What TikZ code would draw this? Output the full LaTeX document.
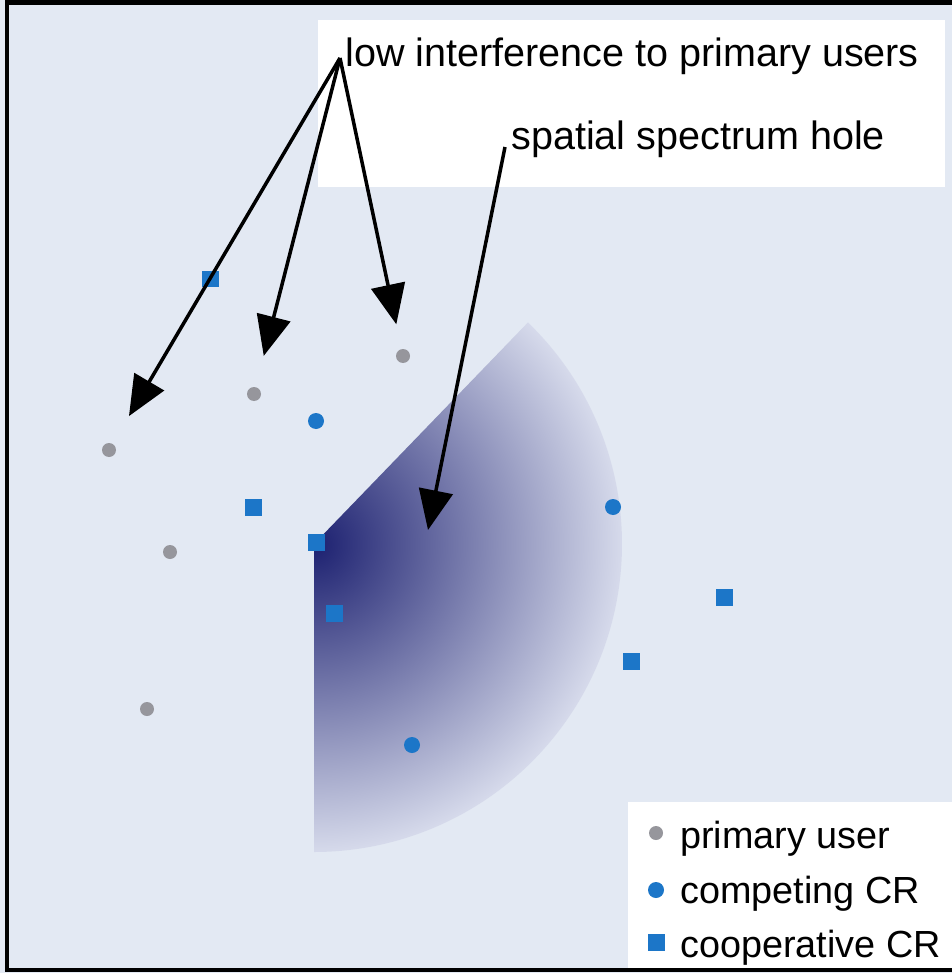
\documentclass[tikz,border=0pt]{standalone}
\usepackage{fontspec}
\setmainfont{Liberation Sans}
\usetikzlibrary{arrows.meta,calc}

\definecolor{bgblue}{RGB}{227,233,243}
\definecolor{holedark}{RGB}{28,32,112}
\definecolor{holelight}{RGB}{214,218,235}
\definecolor{pugray}{RGB}{150,150,156}
\definecolor{crblue}{RGB}{28,118,200}

\pgfdeclareradialshading{holeshade}{\pgfpoint{0bp}{0bp}}{color(0bp)=(holedark); color(25bp)=(holelight); color(50bp)=(holelight)}

\tikzset{
    pudot/.style={circle,fill=pugray,inner sep=0pt,minimum size=0.28cm},
    ccdot/.style={circle,fill=crblue,inner sep=0pt,minimum size=0.32cm},
    cosq/.style={rectangle,fill=crblue,inner sep=0pt,minimum size=0.34cm},
    lbl/.style={anchor=base west,inner sep=0pt,font=\fontsize{22.5}{27}\selectfont},
    leglbl/.style={anchor=base west,inner sep=0pt,font=\fontsize{21.5}{26}\selectfont},
    pointer/.style={line width=2pt,-{Triangle[length=0.8cm,width=0.68cm]}}
}

\begin{document}
\begin{tikzpicture}[x=0.02cm,y=-0.02cm]
    \useasboundingbox (0,0) rectangle (952,973);
    \coordinate (apex) at (314,544);
    \def\R{308}

    % 1. Background and white label boxes
    \fill[bgblue] (0,0) rectangle (952,973);
    \fill[white] (318,20) rectangle (945,187);
    \fill[white] (628,802) rectangle (952,968);

    % 2. Spatial spectrum hole: shaded sector
    \begin{scope}
        \clip (apex) -- ++(-46:\R) arc (-46:90:\R) -- cycle;
        \shade[shading=holeshade] ($(apex)+(-\R,-\R)$) rectangle ($(apex)+(\R,\R)$);
    \end{scope}

    % 3. Primary users
    \node[pudot] (pu1) at (109,450) {};
    \node[pudot] (pu2) at (254,394) {};
    \node[pudot] (pu3) at (403,356) {};
    \node[pudot] (pu4) at (170,552) {};
    \node[pudot] (pu5) at (147,709) {};

    % 4. Competing CRs
    \node[ccdot] (cc1) at (316,421) {};
    \node[ccdot] (cc2) at (613,507) {};
    \node[ccdot] (cc3) at (412,745) {};

    % 5. Cooperative CRs
    \node[cosq] (co1) at (210,279) {};
    \node[cosq] (co2) at (253,507) {};
    \node[cosq] (co3) at (316,542) {};
    \node[cosq] (co4) at (334,613) {};
    \node[cosq] (co5) at (724,597) {};
    \node[cosq] (co6) at (631,661) {};

    % 6. Labels and pointers
    \node[lbl] (lowlbl) at (345,67) {low interference to primary users};
    \node[lbl] (holelbl) at (511,150) {spatial spectrum hole};
    \coordinate (lowtail) at (340,58);
    \coordinate (holetail) at (505,147);
    \coordinate (holept) at (428,530);

    \draw[pointer,shorten >=0.64cm] (lowtail) -- (pu1);
    \draw[pointer,shorten >=0.64cm] (lowtail) -- (pu2);
    \draw[pointer,shorten >=0.5cm] (lowtail) -- (pu3);
    \draw[pointer] (holetail) -- (holept);

    % 7. Legend
    \node[pudot] (legpu) at (656,833) {};
    \node[ccdot] (legcc) at (656,890) {};
    \node[cosq] (legco) at (656,942) {};
    \node[leglbl] (legputxt) at (680,848) {primary user};
    \node[leglbl] (legcctxt) at (680,903) {competing CR};
    \node[leglbl] (legcotxt) at (680,957) {cooperative CR};

    % Frame
    \draw[line width=0.09cm] (7,2.5) rectangle (1000,970);
\end{tikzpicture}
\end{document}
